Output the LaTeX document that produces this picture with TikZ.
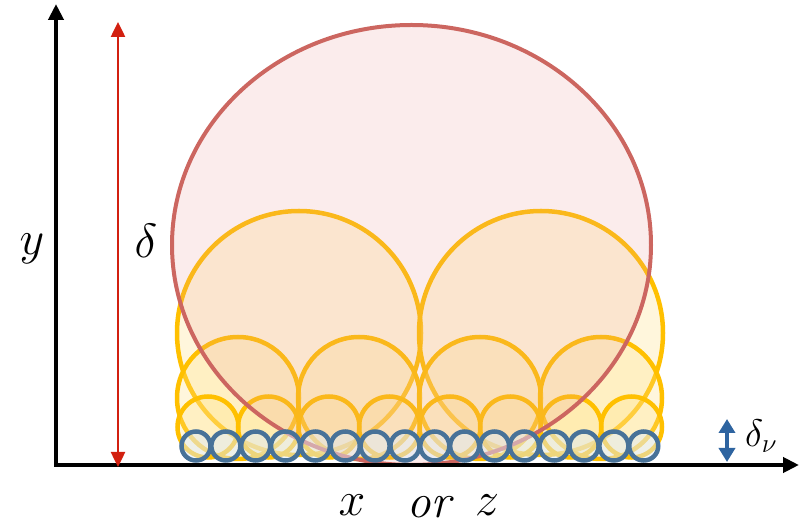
\RequirePackage{fix-cm}
\documentclass[tikz,border=0pt]{standalone}
\usepackage{amsmath,amssymb}
\usepackage{xcolor}
\usepackage{tikz}
\usetikzlibrary{arrows.meta}

\definecolor{axisred}{RGB}{210,32,16}
\definecolor{edgered}{RGB}{204,102,96}
\definecolor{fillred}{RGB}{232,150,150}
\definecolor{eddyyel}{RGB}{255,192,0}
\definecolor{fillyel}{RGB}{255,224,130}
\definecolor{eddyblue}{RGB}{72,114,152}
\definecolor{fillblue}{RGB}{222,235,247}
\definecolor{arrblue}{RGB}{46,100,160}

\begin{document}
\begin{tikzpicture}[x=1pt,y=-1pt,
			axis/.style={line width=4.5pt,-{Triangle[length=16pt,width=15pt]}},
			bigeddy/.style={draw=edgered,line width=4pt,fill=fillred,fill opacity=0.18},
			eddy/.style={draw=eddyyel,line width=4.5pt,fill=fillyel,fill opacity=0.28},
			tiny/.style={draw=eddyblue,line width=4.5pt,fill=fillblue,fill opacity=0.5},
			lab/.style={font=\fontsize{48}{52}\selectfont,inner sep=0pt},
			]
			\useasboundingbox (0,0) rectangle (804,526);
			
			% 坐标
			\coordinate (O) at (56,465);
			\coordinate (Ytop) at (56,4);
			\coordinate (Xend) at (799,465);
			\coordinate (Dtop) at (118,22);
			\coordinate (Dbot) at (118,467);
			\coordinate (Vtop) at (727,419);
			\coordinate (Vbot) at (727,462);
			
			% 大涡（黄色）
			\foreach \cx in {299,541}
			\draw[eddy] (\cx,333) circle (122);
			\foreach \k in {0,...,3}
			\draw[eddy] ({238+121*\k},398) circle (61);
			\foreach \k in {0,...,7}
			\draw[eddy] ({208+60.5*\k},427) circle (30.5);
			
			% 边界层厚度（红色椭圆）
			\draw[bigeddy] (411.5,245) ellipse (239.5 and 220);
			
			% 小涡（蓝色）
			\foreach \k in {0,...,15}
			\draw[tiny] ({196+29.85*\k},446) circle (14.5);
			
			% 坐标轴
			\draw[axis] (O) -- (Ytop);
			\draw[axis] ([xshift=-2pt]O) -- (Xend);
			
			% delta
			\draw[axisred,line width=2.5pt,{Triangle[length=15pt,width=14pt]}-{Triangle[length=15pt,width=14pt]}] (Dbot) -- (Dtop);
			\draw[arrblue,line width=4.5pt,{Triangle[length=14pt,width=16pt]}-{Triangle[length=14pt,width=16pt]}] (Vbot) -- (Vtop);
			
			% 标注
			\node[lab,anchor=base] (ylab) at (32,255) {$y$};
			\node[lab,anchor=base] (dlab) at (146,258) {$\delta$};
			\node[lab,anchor=base west] (dvlab) at (745,447) {\scalebox{0.8}{$\delta_\nu$}};
			\node[lab,anchor=base] (xlab) at (352,516) {$x$};
			\node[lab,anchor=base] (orlab) at (431,518) {$\mathit{or}$};
			\node[lab,anchor=base] (zlab) at (487,516) {$z$};
		\end{tikzpicture}
\end{document}
